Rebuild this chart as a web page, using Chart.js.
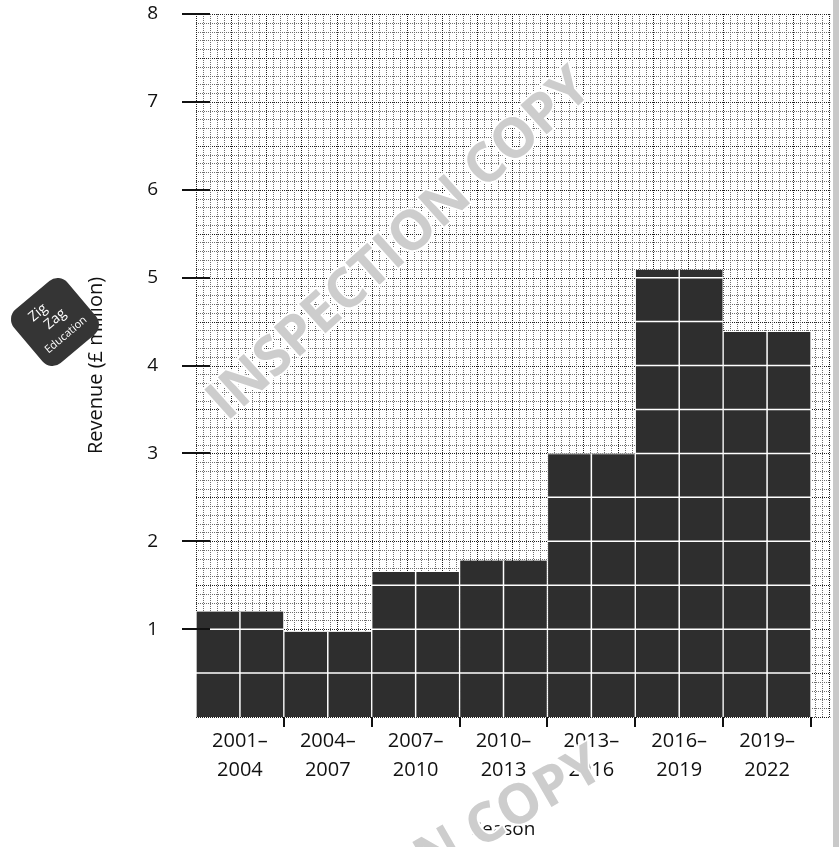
<!DOCTYPE html>
<html>
<head>
<meta charset="utf-8">
<script src="https://cdn.jsdelivr.net/npm/chart.js@4.4.1/dist/chart.umd.min.js"></script>
<style>
  html, body { margin: 0; padding: 0; background: #fff; }
  #wrap { width: 839px; height: 847px; }
</style>
</head>
<body>
<div id="wrap"><canvas id="grafica"></canvas></div>
<script>
const seasons = [['2001–', '2004'], ['2004–', '2007'], ['2007–', '2010'], ['2010–', '2013'], ['2013–', '2016'], ['2016–', '2019'], ['2019–', '2022']];
const revenue = [1.2, 0.97, 1.65, 1.78, 3.0, 5.09, 4.38];
const yTicks = [1, 2, 3, 4, 5, 6, 7, 8];
const mark = 'INSPECTION COPY';

const font = '"Open Sans", "Noto Sans", sans-serif';

// graph paper behind the bars
const graphPaper = {
  id: 'graphPaper',
  beforeDatasetsDraw(chart) {
    const { ctx, chartArea: a, scales: { x, y } } = chart;
    const right = x.getPixelForValue(6.72);
    ctx.save();
    ctx.lineWidth = 1;
    for (let v = 0; v <= 80; v++) {
      const py = Math.round(y.getPixelForValue(v / 10)) + 0.5;
      const major = v % 5 === 0;
      ctx.strokeStyle = major ? '#1e1e1e' : '#6e6e6e';
      ctx.setLineDash([1, 1]);
      ctx.beginPath(); ctx.moveTo(a.left, py); ctx.lineTo(right, py); ctx.stroke();
    }
    for (let k = 0; k <= 100; k++) {
      const px = Math.round(x.getPixelForValue(-0.5 + k * 0.08)) + 0.5;
      if (px > right + 1) break;
      const major = k % 5 === 0;
      ctx.strokeStyle = major ? '#1e1e1e' : '#6e6e6e';
      ctx.setLineDash([1, 1]);
      ctx.beginPath(); ctx.moveTo(px, a.top); ctx.lineTo(px, a.bottom); ctx.stroke();
    }
    // page edge on the right
    ctx.setLineDash([]);
    ctx.fillStyle = '#c9c9c9';
    ctx.fillRect(833, 0, 6, chart.height);
    ctx.restore();
  }
};

// white lines across the bars, tick marks
const barLines = {
  id: 'barLines',
  afterDatasetsDraw(chart) {
    const { ctx, chartArea: a, scales: { x, y } } = chart;
    const meta = chart.getDatasetMeta(0);
    ctx.save();
    ctx.strokeStyle = '#ffffff';
    ctx.lineWidth = 1.5;
    meta.data.forEach(bar => {
      const { x: cx, y: top, base, width } = bar.getProps(['x', 'y', 'base', 'width'], true);
      ctx.save();
      ctx.beginPath();
      ctx.rect(cx - width / 2, top, width, base - top);
      ctx.clip();
      ctx.beginPath();
      for (let v = 0.5; v < 8; v += 0.5) {
        const py = y.getPixelForValue(v);
        ctx.moveTo(cx - width / 2, py); ctx.lineTo(cx + width / 2, py);
      }
      ctx.moveTo(cx, top); ctx.lineTo(cx, base);
      ctx.stroke();
      ctx.restore();
    });
    ctx.strokeStyle = '#111';
    ctx.lineWidth = 2;
    ctx.beginPath();
    yTicks.forEach(v => {
      const py = Math.round(y.getPixelForValue(v));
      ctx.moveTo(a.left - 14, py); ctx.lineTo(a.left + 14, py);
    });
    for (let i = 0; i < seasons.length; i++) {
      const px = Math.round(x.getPixelForValue(i + 0.5));
      ctx.moveTo(px, a.bottom); ctx.lineTo(px, a.bottom + 10);
    }
    ctx.stroke();
    ctx.restore();
  }
};

// watermark and logo over everything
const watermark = {
  id: 'watermark',
  afterDraw(chart) {
    const ctx = chart.ctx;
    [[400, 245, -42], [385, 885, -30]].forEach(([cx, cy, rot]) => {
      ctx.save();
      ctx.translate(cx, cy);
      ctx.rotate(rot * Math.PI / 180);
      ctx.font = 'bold 55px ' + font;
      ctx.textAlign = 'center';
      ctx.textBaseline = 'middle';
      ctx.lineWidth = 4;
      ctx.strokeStyle = '#ffffff';
      ctx.strokeText(mark, 0, 0);
      ctx.fillStyle = '#cdcdcd';
      ctx.fillText(mark, 0, 0);
      ctx.restore();
    });

    ctx.save();
    ctx.translate(55, 322);
    ctx.rotate(-40 * Math.PI / 180);
    ctx.fillStyle = '#353535';
    ctx.beginPath();
    ctx.roundRect(-35, -35, 70, 70, 13);
    ctx.fill();
    ctx.fillStyle = '#ffffff';
    ctx.textAlign = 'center';
    ctx.textBaseline = 'middle';
    ctx.font = '14px ' + font;
    ctx.fillText('Zig', -7, -18);
    ctx.fillText('Zag', 2, -2);
    ctx.font = '11px ' + font;
    ctx.fillText('Education', 0, 17);
    ctx.restore();
  }
};

const ctx = document.getElementById('grafica');

new Chart(ctx, {
  type: 'bar',
  data: {
    labels: seasons,
    datasets: [{
      label: 'Revenue',
      data: revenue,
      backgroundColor: '#2e2e2e',
      borderColor: '#ffffff',
      borderWidth: { left: 1, right: 1, top: 0, bottom: 0 },
      borderSkipped: false,
      barPercentage: 1,
      categoryPercentage: 1
    }]
  },
  options: {
    responsive: true,
    maintainAspectRatio: false,
    animation: false,
    layout: {
      padding: { left: 80, right: 28, top: 14, bottom: 2 }
    },
    plugins: {
      legend: { display: false },
      tooltip: { enabled: false }
    },
    scales: {
      y: {
        min: 0,
        max: 8,
        afterFit(scale) {
          scale.width = 116;
          scale.paddingTop = 0;
          scale.paddingBottom = 0;
        },
        grid: { display: false, drawTicks: false },
        border: { display: false },
        ticks: {
          stepSize: 1,
          padding: 38,
          color: '#111',
          font: { family: font, size: 19 },
          callback: v => yTicks.includes(v) ? String(v) : ''
        },
        title: {
          display: true,
          text: 'Revenue (£ million)',
          color: '#111',
          font: { family: font, size: 20 }
        }
      },
      x: {
        afterFit(scale) { scale.height = 128; },
        grid: { display: false, drawTicks: false },
        border: { display: false },
        ticks: {
          padding: 10,
          color: '#111',
          maxRotation: 0,
          font: { family: font, size: 20, lineHeight: 1.45 }
        },
        title: {
          display: true,
          text: 'Season',
          color: '#111',
          font: { family: font, size: 19 }
        }
      }
    }
  },
  plugins: [graphPaper, barLines, watermark]
});
</script>
</body>
</html>
